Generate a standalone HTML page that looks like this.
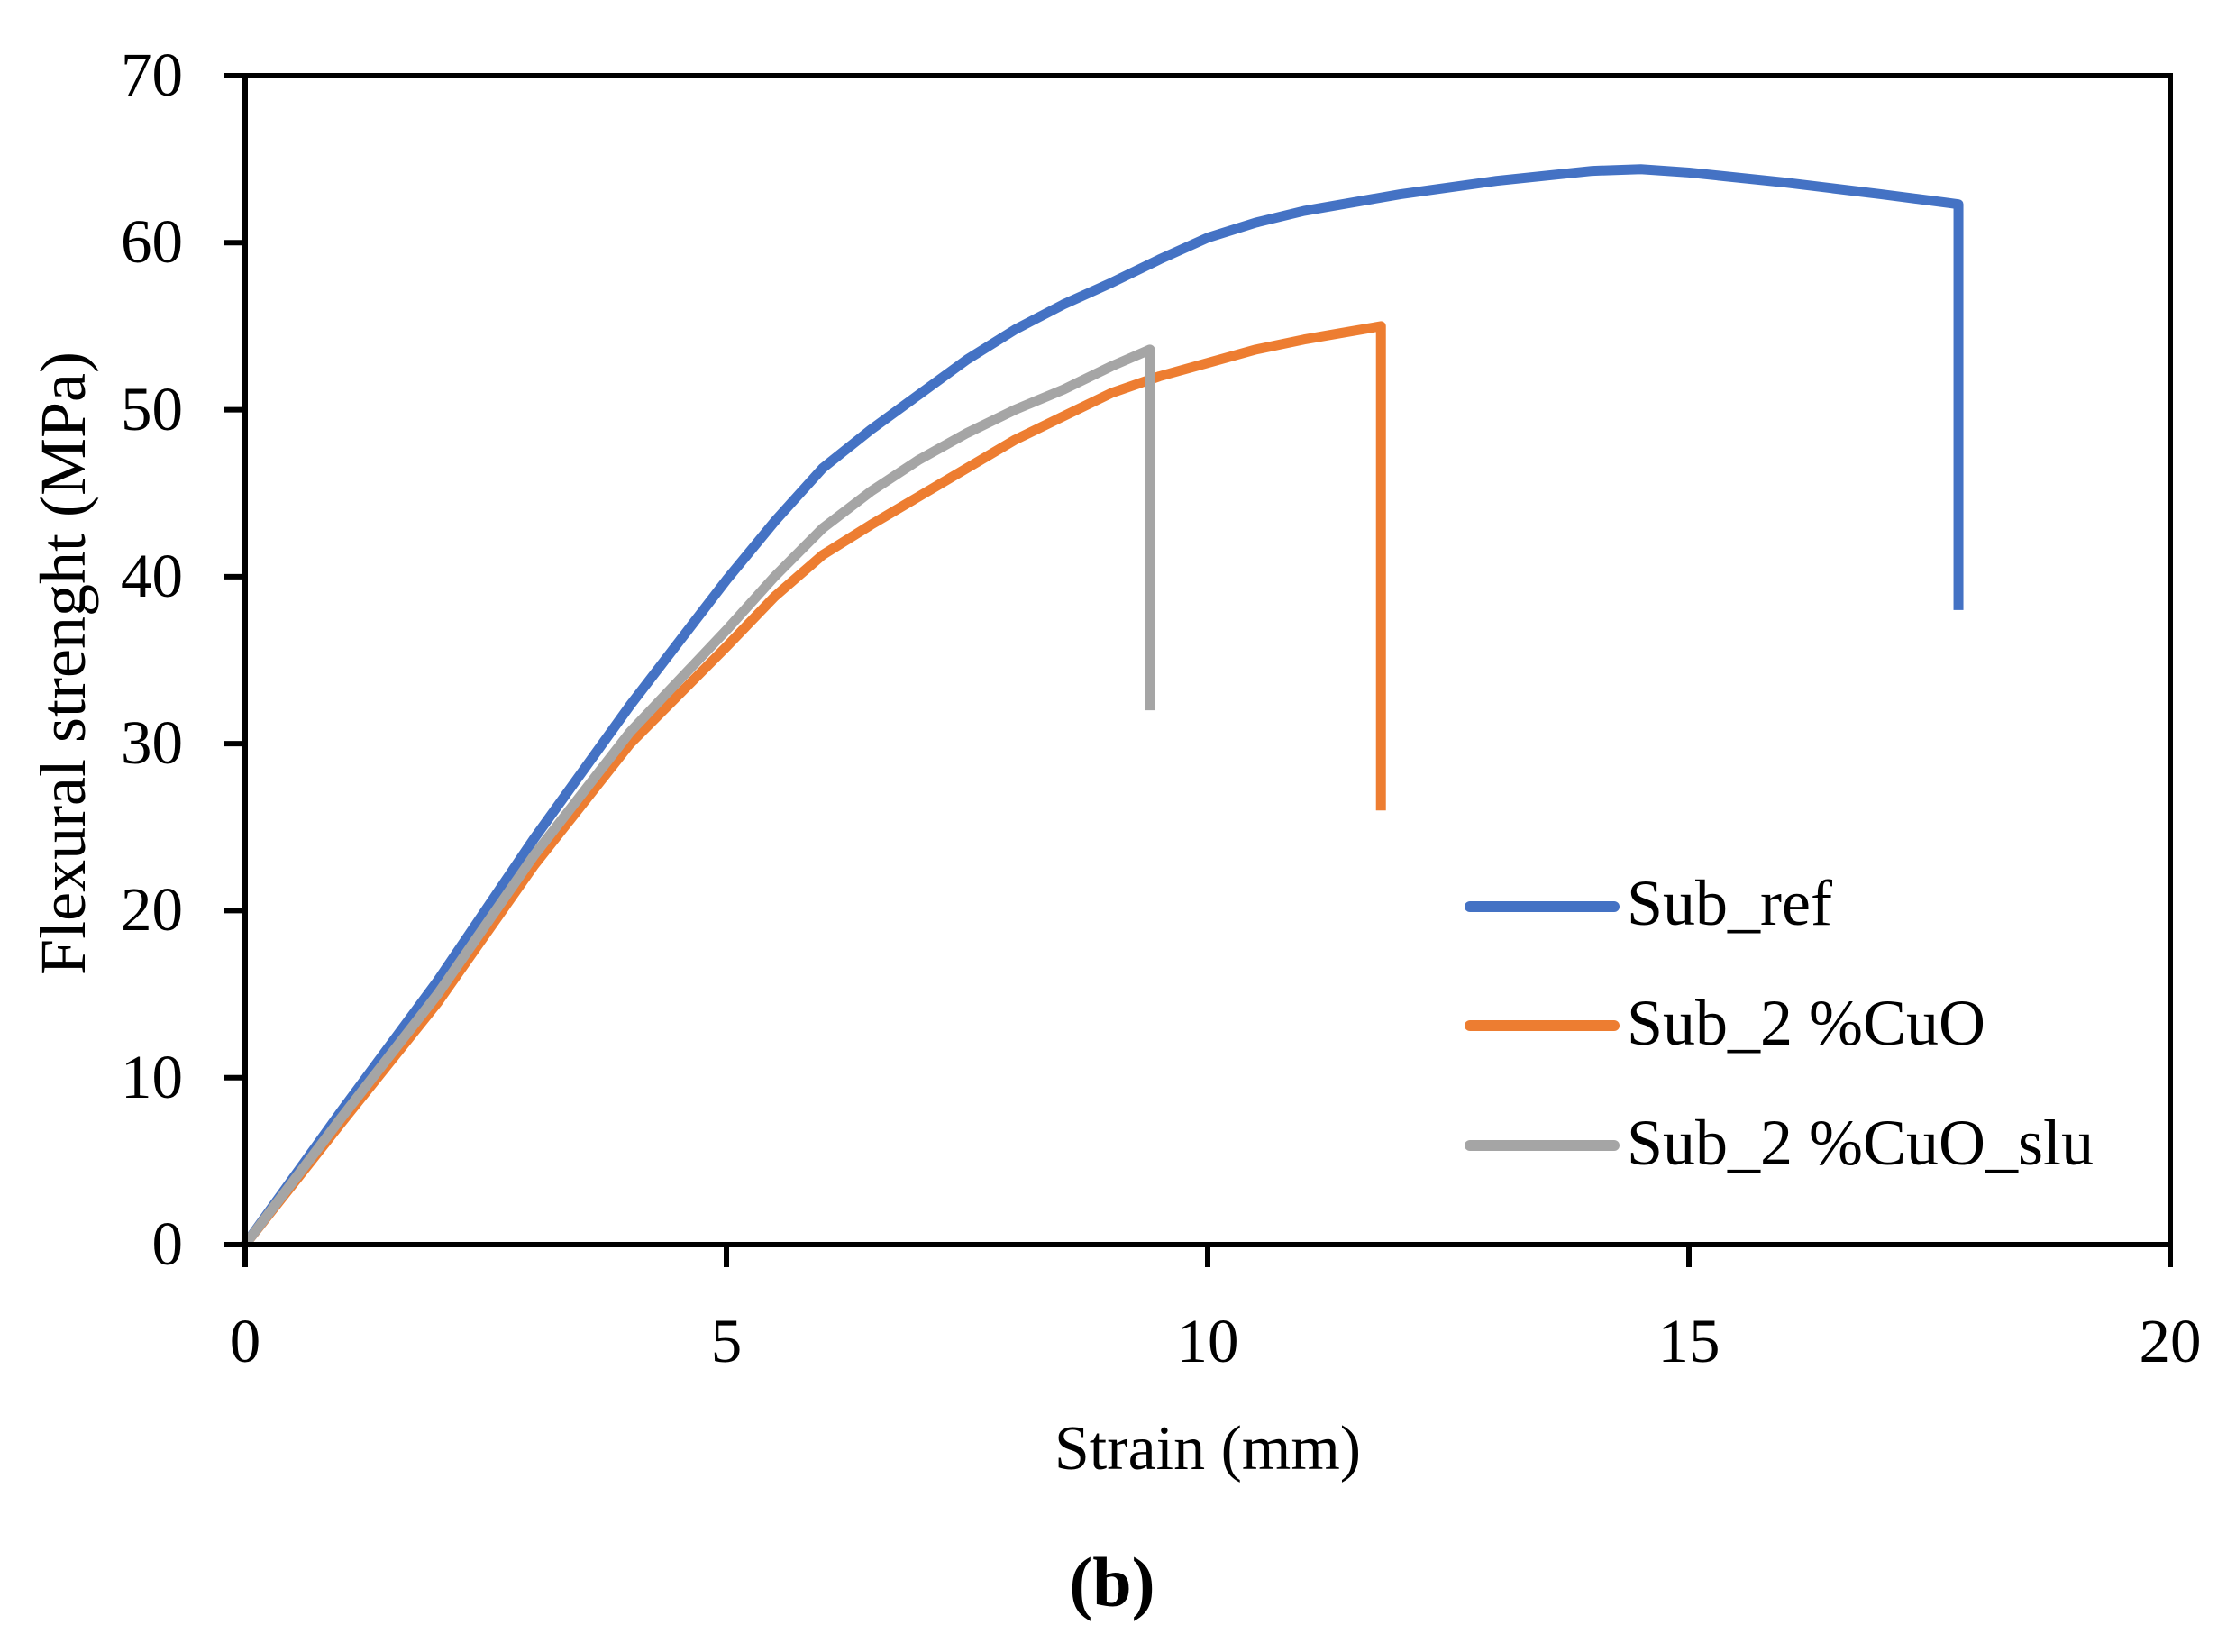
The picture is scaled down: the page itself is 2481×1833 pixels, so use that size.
<!DOCTYPE html>
<html><head><meta charset="utf-8"><style>
html,body{margin:0;padding:0;background:#fff;}
svg{display:block;}
text{font-family:"Liberation Serif",serif;fill:#000;}
</style></head><body>
<svg width="2481" height="1833" viewBox="0 0 2481 1833" xmlns="http://www.w3.org/2000/svg">
<rect width="2481" height="1833" fill="#fff"/>
<g transform="translate(272,1381) scale(106.8,-18.529)" fill="none" stroke-linejoin="round">
<polyline vector-effect="non-scaling-stroke" stroke="#4472C4" stroke-width="11" points="0,0 1,8 2,15.8 3,24.3 4,32.3 5,39.8 5.5,43.3 6,46.5 6.5,48.8 7,50.9 7.5,53 8,54.8 8.5,56.3 9,57.6 9.5,59 10,60.3 10.5,61.2 11,61.9 12,62.9 13,63.7 14,64.3 14.5,64.4 15,64.2 16,63.6 17,62.9 17.8,62.3 17.8,38"/>
<polyline vector-effect="non-scaling-stroke" stroke="#ED7D31" stroke-width="11" points="0,0 1,7.3 2,14.5 3,22.7 4,30 5,35.8 5.5,38.8 6,41.3 6.5,43.1 7,44.8 7.5,46.5 8,48.2 8.5,49.6 9,51 9.5,52 10,52.8 10.5,53.6 11,54.2 11.5,54.7 11.8,55 11.8,26"/>
<polyline vector-effect="non-scaling-stroke" stroke="#A5A5A5" stroke-width="11" points="0,0 1,7.6 2,15 3,23.3 4,30.7 5,36.8 5.5,40 6,42.9 6.5,45.1 7,47 7.5,48.6 8,50 8.5,51.2 9,52.6 9.4,53.6 9.4,32"/>
</g>
<rect x="272" y="84" width="2136" height="1297" fill="none" stroke="#000" stroke-width="6"/>
<g stroke="#000" stroke-width="6">
<line x1="248" y1="84" x2="272" y2="84"/>
<line x1="248" y1="269.3" x2="272" y2="269.3"/>
<line x1="248" y1="454.6" x2="272" y2="454.6"/>
<line x1="248" y1="639.9" x2="272" y2="639.9"/>
<line x1="248" y1="825.1" x2="272" y2="825.1"/>
<line x1="248" y1="1010.4" x2="272" y2="1010.4"/>
<line x1="248" y1="1195.7" x2="272" y2="1195.7"/>
<line x1="248" y1="1381" x2="272" y2="1381"/>
<line x1="272" y1="1381" x2="272" y2="1406"/>
<line x1="806" y1="1381" x2="806" y2="1406"/>
<line x1="1340" y1="1381" x2="1340" y2="1406"/>
<line x1="1874" y1="1381" x2="1874" y2="1406"/>
<line x1="2408" y1="1381" x2="2408" y2="1406"/>
</g>
<g font-size="69" text-anchor="end">
<text x="203" y="106">70</text>
<text x="203" y="291">60</text>
<text x="203" y="477">50</text>
<text x="203" y="662">40</text>
<text x="203" y="847">30</text>
<text x="203" y="1032">20</text>
<text x="203" y="1218">10</text>
<text x="203" y="1403">0</text>
</g>
<g font-size="69" text-anchor="middle">
<text x="272" y="1511">0</text>
<text x="806" y="1511">5</text>
<text x="1340" y="1511">10</text>
<text x="1874" y="1511">15</text>
<text x="2408" y="1511">20</text>
<text x="1340" y="1630" font-size="70">Strain (mm)</text>
<text x="1234" y="1782" font-size="78" font-weight="bold">(b)</text>
</g>
<text font-size="72" text-anchor="middle" transform="translate(94,736) rotate(-90)">Flexural strenght (MPa)</text>
<g stroke-width="12" stroke-linecap="round">
<line x1="1631" y1="1006" x2="1791" y2="1006" stroke="#4472C4"/>
<line x1="1631" y1="1138" x2="1791" y2="1138" stroke="#ED7D31"/>
<line x1="1631" y1="1271" x2="1791" y2="1271" stroke="#A5A5A5"/>
</g>
<g font-size="72">
<text x="1805" y="1026">Sub_ref</text>
<text x="1805" y="1159">Sub_2 %CuO</text>
<text x="1805" y="1292">Sub_2 %CuO_slu</text>
</g>
</svg>
</body></html>
